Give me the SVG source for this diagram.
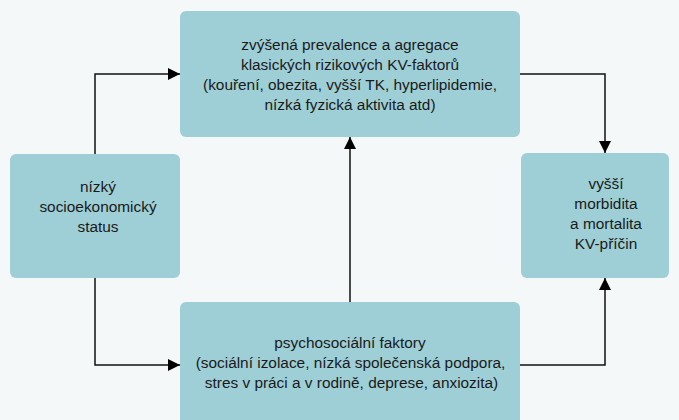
<svg xmlns="http://www.w3.org/2000/svg" width="679" height="420" viewBox="0 0 679 420">
  <defs>
    <style>
      .node { fill: #9ecfd6; }
      .lbl { font-family: "Liberation Sans", Arial, sans-serif; font-size: 15.4px; fill: #1a1a1a; text-anchor: middle; }
      .conn { fill: none; stroke: #111; stroke-width: 1.5; marker-end: url(#arrow); }
    </style>
    <marker id="arrow" markerUnits="userSpaceOnUse" markerWidth="13" markerHeight="13" refX="12" refY="6.5" orient="auto">
      <path d="M0,0.5 L12,6.5 L0,12.5 z" fill="#000"/>
    </marker>
  </defs>
  <rect width="679" height="420" fill="#f4f8f8"/>

  <g id="connectors">
    <polyline class="conn" points="95,154 95,74 180,74"/>
    <polyline class="conn" points="95,278 95,365 180,365"/>
    <polyline class="conn" points="520,74 605,74 605,153"/>
    <polyline class="conn" points="520,365 605,365 605,278"/>
    <polyline class="conn" points="350,302 350,137"/>
  </g>

  <g id="node-top">
    <rect class="node" x="180" y="11" width="340" height="126" rx="6"/>
    <text class="lbl" x="350" y="49.5">zvýšená prevalence a agregace</text>
    <text class="lbl" x="350" y="69.5">klasických rizikových KV-faktorů</text>
    <text class="lbl" x="350" y="89.5">(kouření, obezita, vyšší TK, hyperlipidemie,</text>
    <text class="lbl" x="350" y="109.5">nízká fyzická aktivita atd)</text>
  </g>

  <g id="node-left">
    <rect class="node" x="10" y="154" width="170" height="124" rx="6"/>
    <text class="lbl" x="98" y="192">nízký</text>
    <text class="lbl" x="98" y="212">socioekonomický</text>
    <text class="lbl" x="98" y="232">status</text>
  </g>

  <g id="node-right">
    <rect class="node" x="521" y="153" width="148" height="125" rx="6"/>
    <text class="lbl" x="606" y="188.5">vyšší</text>
    <text class="lbl" x="606" y="208.5">morbidita</text>
    <text class="lbl" x="606" y="228.5">a mortalita</text>
    <text class="lbl" x="606" y="248.5">KV-příčin</text>
  </g>

  <g id="node-bottom">
    <rect class="node" x="180" y="302" width="340" height="130" rx="6"/>
    <text class="lbl" x="350" y="348">psychosociální faktory</text>
    <text class="lbl" x="350.5" y="368">(sociální izolace, nízká společenská podpora,</text>
    <text class="lbl" x="351.5" y="388">stres v práci a v rodině, deprese, anxiozita)</text>
  </g>
</svg>
